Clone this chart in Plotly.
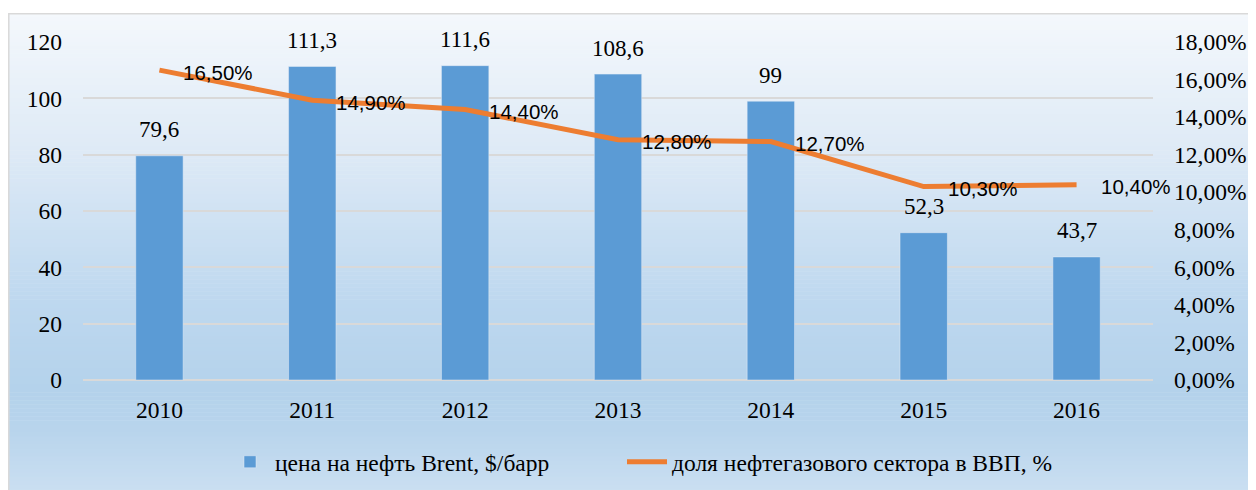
import plotly.graph_objects as go

years = ["2010", "2011", "2012", "2013", "2014", "2015", "2016"]
brent = [79.6, 111.3, 111.6, 108.6, 99, 52.3, 43.7]
share = [0.165, 0.149, 0.144, 0.128, 0.127, 0.103, 0.104]
bar_name = "цена на нефть Brent, $/барр"
line_name = "доля нефтегазового сектора в ВВП, %"

# the page shows the figure offset by the body margin (8px)
OFF = 8
W, H = 1256 - OFF, 490 - OFF
L, T = 83 - OFF, 42 - OFF
R = W - (1153 - OFF)
B = H - (380 - OFF)
ph = H - T - B
pw = W - L - R

def py(p):  # screen pixel y -> paper
    return (H - B - (p - OFF)) / ph

def px(p):  # screen pixel x -> paper
    return ((p - OFF) - L) / pw

SERIF = "Liberation Serif"
SANS = "Liberation Sans"

fig = go.Figure()
fig.add_trace(go.Bar(x=years, y=brent, name=bar_name, marker_color="#5B9BD5",
                     width=0.31, yaxis="y", legend="legend"))
fig.add_trace(go.Scatter(x=years, y=share, name=line_name, mode="lines",
                         line=dict(color="#ED7D31", width=5), yaxis="y2",
                         legend="legend2"))

# gradient background strips
stops = [(13, (244, 248, 252)), (150, (222, 234, 246)), (300, (190, 216, 239)),
         (390, (180, 210, 235)), (430, (184, 212, 236)), (497, (204, 224, 242))]
shapes = []
n = 120
for i in range(n):
    y0p = 13 + (497 - 13) * i / n
    y1p = 13 + (497 - 13) * (i + 1) / n
    ym = (y0p + y1p) / 2
    for j in range(len(stops) - 1):
        a, ca = stops[j]
        b, cb = stops[j + 1]
        if a <= ym <= b:
            t = (ym - a) / (b - a)
            c = tuple(int(round(ca[k] + (cb[k] - ca[k]) * t)) for k in range(3))
            break
    shapes.append(dict(type="rect", xref="paper", yref="paper", layer="below",
                       x0=px(8), x1=px(1262), y0=py(y1p + 0.5), y1=py(y0p),
                       fillcolor="rgb(%d,%d,%d)" % c, line=dict(width=0)))
shapes.append(dict(type="rect", xref="paper", yref="paper", layer="below",
                   x0=px(8.8), x1=px(1262), y0=py(497), y1=py(13.8),
                   fillcolor="rgba(0,0,0,0)", line=dict(color="#d9d9d9", width=1.5)))

annotations = []
for i, v in enumerate(brent):
    txt = ("%g" % v).replace(".", ",")
    annotations.append(dict(x=i, y=v, xref="x", yref="y", text=txt, showarrow=False,
                            yanchor="middle", yshift=26,
                            font=dict(family=SERIF, size=23, color="#000")))
for i, v in enumerate(share):
    txt = ("%.2f%%" % (v * 100)).replace(".", ",")
    annotations.append(dict(x=i, y=v, xref="x", yref="y2", text=txt, showarrow=False,
                            xanchor="left", yanchor="middle", xshift=22, yshift=-2,
                            font=dict(family=SANS, size=20.5, color="#000")))

legend_style = dict(orientation="h", xanchor="left", y=py(462), yanchor="middle",
                    font=dict(family=SERIF, size=23.5, color="#000"),
                    bgcolor="rgba(0,0,0,0)", itemwidth=40)

fig.update_layout(
    width=W, height=H,
    margin=dict(l=L, r=R, t=T, b=B, autoexpand=False),
    paper_bgcolor="white",
    plot_bgcolor="rgba(0,0,0,0)",
    separators=", ",
    shapes=shapes,
    annotations=annotations,
    showlegend=True,
    legend=dict(x=px(225), **legend_style),
    legend2=dict(x=px(622), **legend_style),
    xaxis=dict(type="category", range=[-0.5, 6.5], autorange=False,
               showgrid=False, showline=False, ticks="",
               tickfont=dict(family=SERIF, size=23.5, color="#000"),
               ticklabelstandoff=13),
    yaxis=dict(range=[0, 120], autorange=False, dtick=20, showgrid=True, gridcolor="#d9d9d9",
               gridwidth=1.5, zeroline=True, zerolinecolor="#d9d9d9", zerolinewidth=1.5,
               showline=False, ticks="", ticklabelstandoff=20,
               tickfont=dict(family=SERIF, size=23.5, color="#000")),
    yaxis2=dict(range=[0, 0.18], autorange=False, dtick=0.02, tickformat=".2%", overlaying="y",
                side="right", showgrid=False, zeroline=False, showline=False, ticks="",
                ticklabelstandoff=20,
                tickfont=dict(family=SERIF, size=23.5, color="#000")),
    bargap=0.69,
)

fig.write_html("out.html")
